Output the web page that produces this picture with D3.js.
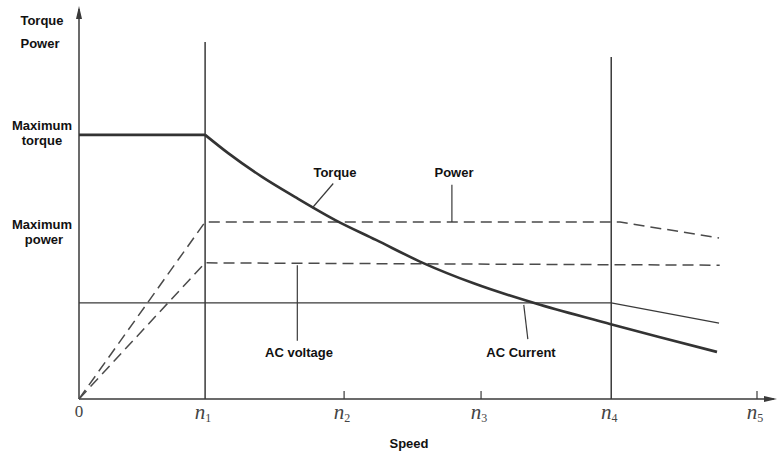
<!DOCTYPE html>
<html>
<head>
<meta charset="utf-8">
<script src="https://cdn.jsdelivr.net/npm/d3@7"></script>
<style>
    body { margin: 0; background: #fff; }
    svg { display: block; }
    .lbl { font-family: "Liberation Sans", Arial, sans-serif; font-weight: bold; font-size: 13px; fill: #111; }
    .tick-lbl { font-family: "Liberation Serif", "DejaVu Serif", serif; font-style: italic; fill: #444; }
</style>
</head>
<body>
<div id="chart"></div>
<script>
// speed positions of the named speeds (0..100 scale)
const speed_ticks = [0, 18.6, 39.1, 59.3, 78.5, 100];
const speed_names = ['0', 'n1', 'n2', 'n3', 'n4', 'n5'];

// torque: flat part, then falling curve
const torque_flat = [[0, 67.9], [18.6, 67.9]];
const torque_curve = [
    [18.6, 67.9], [22.0, 63.2], [27.0, 57.1], [31.9, 51.9], [37.8, 46.0],
    [43.8, 40.9], [50.7, 35.0], [58.1, 29.8], [68.0, 24.2], [78.3, 19.3],
    [85.7, 15.9], [94.1, 12.1],
];
const power = [[0, 0], [18.6, 45.5], [79.8, 45.5], [94.4, 41.4]];
const ac_voltage = [[0, 0], [18.6, 35.0], [94.5, 34.4]];
const ac_current = [[0, 24.7], [78.5, 24.7], [94.4, 19.5]];

// vertical speed lines at n1 and n4 (speed, top)
const speed_lines = [[18.6, 91.8], [78.5, 87.9]];

const width = 777, height = 452;
const origin = { x: 79, y: 399 };

const svg = d3.select('#chart')
    .append('svg')
    .attr('width', width)
    .attr('height', height);

const x = d3.scaleLinear().domain([0, 100]).range([origin.x, 757]);
const y = d3.scaleLinear().domain([0, 100]).range([origin.y, 10]);

const ink = '#3a3a3a';

// axes with arrow heads
svg.append('line')
    .attr('x1', origin.x).attr('y1', origin.y)
    .attr('x2', origin.x).attr('y2', 9)
    .attr('stroke', ink).attr('stroke-width', 1.5);
svg.append('path')
    .attr('d', `M${origin.x - 3},19 L${origin.x},6 L${origin.x + 3},19 Z`)
    .attr('fill', ink);
svg.append('line')
    .attr('x1', origin.x).attr('y1', origin.y)
    .attr('x2', 774).attr('y2', origin.y)
    .attr('stroke', ink).attr('stroke-width', 1.5);
svg.append('path')
    .attr('d', `M764,${origin.y - 3} L777,${origin.y} L764,${origin.y + 3} Z`)
    .attr('fill', ink);

// small ticks at n2, n3, n5
svg.selectAll('.small-tick')
    .data([speed_ticks[2], speed_ticks[3], speed_ticks[5]])
    .join('line')
        .attr('x1', (d) => x(d)).attr('x2', (d) => x(d))
        .attr('y1', origin.y).attr('y2', origin.y - 8)
        .attr('stroke', ink).attr('stroke-width', 1.2);

// full vertical lines at n1, n4
svg.selectAll('.speed-line')
    .data(speed_lines)
    .join('line')
        .attr('x1', (d) => x(d[0])).attr('x2', (d) => x(d[0]))
        .attr('y1', origin.y).attr('y2', (d) => y(d[1]))
        .attr('stroke', ink).attr('stroke-width', 1.5);

// tick labels, n with an upright subscript
speed_names.forEach(function(name, i) {
    const t = svg.append('text')
        .attr('class', 'tick-lbl')
        .attr('x', x(speed_ticks[i]) + (i === 0 ? 0 : -2))
        .attr('y', i === 0 ? 417 : 419)
        .attr('text-anchor', 'middle');
    if (i === 0) {
        t.style('font-style', 'normal').style('font-size', '17px').text(name);
    } else {
        t.style('font-size', '21px');
        t.append('tspan').text(name[0]);
        t.append('tspan')
            .style('font-size', '12px')
            .style('font-style', 'normal')
            .attr('dy', 3)
            .text(name.slice(1));
    }
});

const line = d3.line().x((d) => x(d[0])).y((d) => y(d[1]));

svg.append('path')
    .attr('d', line(ac_current))
    .attr('fill', 'none').attr('stroke', ink).attr('stroke-width', 1.3);

svg.append('path')
    .attr('d', line(power))
    .attr('fill', 'none').attr('stroke', '#4a4a4a').attr('stroke-width', 1.5)
    .attr('stroke-dasharray', '11,6');
svg.append('path')
    .attr('d', line(ac_voltage))
    .attr('fill', 'none').attr('stroke', '#4a4a4a').attr('stroke-width', 1.5)
    .attr('stroke-dasharray', '11,6');

svg.append('path')
    .attr('d', line(torque_flat))
    .attr('fill', 'none').attr('stroke', '#333').attr('stroke-width', 2.6);
svg.append('path')
    .attr('d', line.curve(d3.curveMonotoneX)(torque_curve))
    .attr('fill', 'none').attr('stroke', '#333').attr('stroke-width', 2.6);

// annotation leaders: [label x, label y, curve x, curve y] in data units
const leaders = [
    [37.5, 55.4, 34.4, 49.1],
    [55.0, 55.1, 55.0, 45.5],
    [32.2, 34.4, 32.2, 15.0],
    [65.6, 24.2, 66.2, 15.4],
];
svg.selectAll('.leader')
    .data(leaders)
    .join('line')
        .attr('x1', (d) => x(d[0])).attr('y1', (d) => y(d[1]))
        .attr('x2', (d) => x(d[2])).attr('y2', (d) => y(d[3]))
        .attr('stroke', ink).attr('stroke-width', 1.2);

function label(txt, px, py, anchor) {
    svg.append('text')
        .attr('class', 'lbl')
        .attr('x', px).attr('y', py)
        .attr('text-anchor', anchor || 'middle')
        .text(txt);
}

label('Torque', 42, 25);
label('Power', 40, 48);
label('Maximum', 42, y(67.9) - 5);
label('torque', 42, y(67.9) + 10);
label('Maximum', 42, 229);
label('power', 44, 244);

label('Torque', 335, 177);
label('Power', 454, 177);
label('AC voltage', 299, 357);
label('AC Current', 521, 357);
label('Speed', 409, 448);
</script>
</body>
</html>
